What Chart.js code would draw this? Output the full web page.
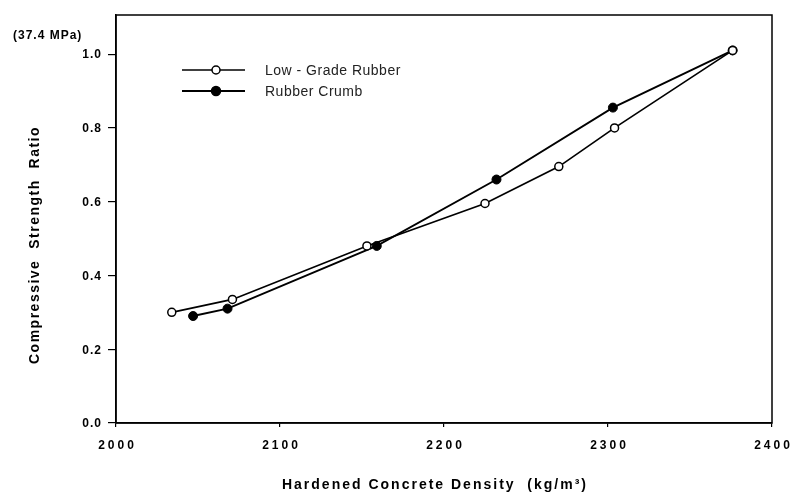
<!DOCTYPE html>
<html>
<head>
<meta charset="utf-8">
<script src="https://cdn.jsdelivr.net/npm/chart.js@4/dist/chart.umd.min.js"></script>
<style>
	html, body { margin: 0; padding: 0; background: #fff; }
	#wrap { width: 795px; height: 495px; }
</style>
</head>
<body>
<div id="wrap"><canvas id="myChart" width="795" height="495"></canvas></div>
<script>
// values
const lowGradeDensity = [2034, 2071, 2153, 2225, 2270, 2304, 2376];
const lowGradeRatio = [0.30, 0.335, 0.48, 0.595, 0.695, 0.80, 1.01];
const crumbDensity = [2047, 2068, 2159, 2232, 2303, 2376];
const crumbRatio = [0.29, 0.31, 0.48, 0.66, 0.855, 1.01];

const seriesLabels = ["Low - Grade Rubber", "Rubber Crumb"];
const xTickLabels = [2000, 2100, 2200, 2300, 2400];
const yTickLabels = [0.0, 0.2, 0.4, 0.6, 0.8, 1.0];
const xTitle = "Hardened Concrete Density  (kg/m³)";
const yTitle = "Compressive  Strength  Ratio";
const yUnitNote = "(37.4 MPa)";

const FONT = "'Liberation Sans', Arial, sans-serif";

const toPoints = (xs, ys) => xs.map((x, i) => ({x: x, y: ys[i]}));

// draws the frame, the legend and the text that needs letter spacing
const extras = {
	id: "extras",
	afterDraw(chart) {
		const {ctx, chartArea: area, scales} = chart;
		ctx.save();
		ctx.strokeStyle = "#000";
		ctx.lineWidth = 1.5;
		ctx.strokeRect(area.left, area.top, area.right - area.left, area.bottom - area.top);

		ctx.fillStyle = "#000";
		ctx.textBaseline = "middle";

		// x tick labels
		ctx.font = "bold 12px " + FONT;
		ctx.letterSpacing = "3px";
		ctx.textAlign = "center";
		xTickLabels.forEach(v => {
			ctx.fillText(String(v), scales.x.getPixelForValue(v) + 1.5, 446);
		});

		// y tick labels
		ctx.font = "bold 12px " + FONT;
		ctx.letterSpacing = "1px";
		ctx.textAlign = "right";
		yTickLabels.forEach(v => {
			ctx.fillText(v.toFixed(1), 102, scales.y.getPixelForValue(v) + 1);
		});

		// x title
		ctx.textAlign = "center";
		ctx.font = "bold 14px " + FONT;
		ctx.letterSpacing = "2px";
		ctx.fillText(xTitle, 435, 485);

		// y title
		ctx.save();
		ctx.translate(35, 245);
		ctx.rotate(-Math.PI / 2);
		ctx.font = "bold 14px " + FONT;
		ctx.letterSpacing = "1.5px";
		ctx.fillText(yTitle, 0, 0);
		ctx.restore();

		ctx.font = "bold 12px " + FONT;
		ctx.letterSpacing = "1px";
		ctx.textAlign = "left";
		ctx.fillText(yUnitNote, 13, 36);

		// legend
		chart.data.datasets.forEach((ds, i) => {
			const y = 70 + i * 21;
			ctx.strokeStyle = "#000";
			ctx.lineWidth = i === 0 ? 1.3 : 2;
			ctx.beginPath();
			ctx.moveTo(182, y);
			ctx.lineTo(245, y);
			ctx.stroke();
			ctx.beginPath();
			ctx.arc(216, y, ds.pointRadius, 0, Math.PI * 2);
			ctx.fillStyle = ds.pointBackgroundColor;
			ctx.fill();
			ctx.lineWidth = 1.5;
			ctx.stroke();
			ctx.fillStyle = "#222";
			ctx.font = "14px " + FONT;
			ctx.letterSpacing = "0.5px";
			ctx.fillText(ds.label, 265, y + 1);
		});
		ctx.restore();
	}
};

new Chart(document.getElementById("myChart"), {
	type: "scatter",
	data: {
		datasets: [{
			label: seriesLabels[0],
			data: toPoints(lowGradeDensity, lowGradeRatio),
			showLine: true,
			borderColor: "#000",
			borderWidth: 1.7,
			pointRadius: 4,
			pointBackgroundColor: "#fff",
			pointBorderColor: "#000",
			pointBorderWidth: 1.5,
		}, {
			label: seriesLabels[1],
			data: toPoints(crumbDensity, crumbRatio),
			showLine: true,
			borderColor: "#000",
			borderWidth: 1.9,
			pointRadius: 4.5,
			pointBackgroundColor: "#000",
			pointBorderColor: "#000",
			pointBorderWidth: 1,
		}]
	},
	options: {
		responsive: false,
		animation: false,
		layout: {padding: {top: 15, right: 23, left: 0, bottom: 0}},
		plugins: {
			legend: {display: false},
			tooltip: {enabled: false},
		},
		scales: {
			x: {
				type: "linear",
				min: 2000,
				max: 2400,
				afterBuildTicks: scale => { scale.ticks = xTickLabels.map(v => ({value: v})); },
				afterFit: scale => { scale.height = 72; },
				ticks: {display: false},
				grid: {drawOnChartArea: false, tickLength: 4, color: "#000", lineWidth: 1.2},
				border: {color: "#000", width: 1.5},
			},
			y: {
				min: 0,
				max: 1.106,
				afterBuildTicks: scale => { scale.ticks = yTickLabels.map(v => ({value: v})); },
				afterFit: scale => { scale.width = 116; },
				ticks: {display: false},
				grid: {drawOnChartArea: false, tickLength: 8, color: "#000", lineWidth: 1.2},
				border: {color: "#000", width: 1.5},
			}
		}
	},
	plugins: [extras]
});
</script>
</body>
</html>
